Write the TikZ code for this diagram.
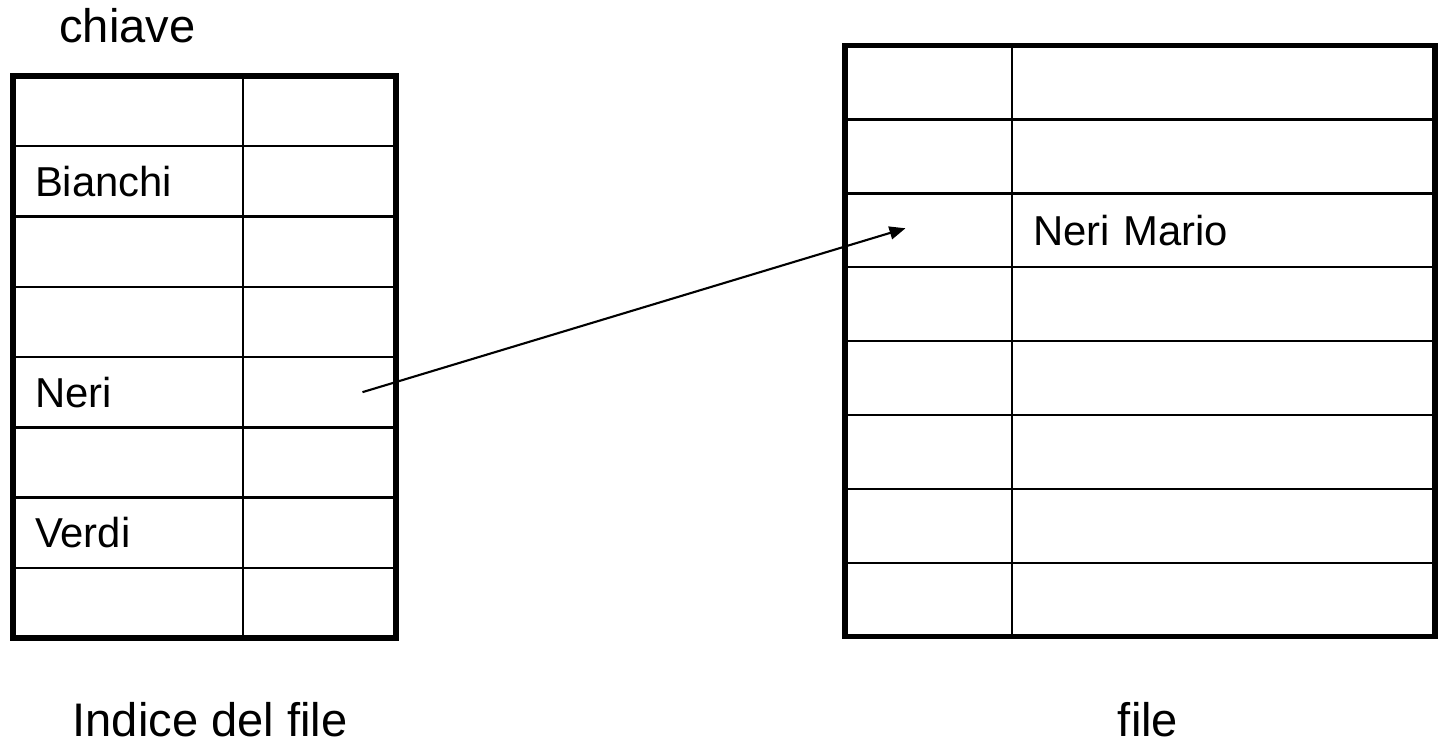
\documentclass[tikz,border=0pt]{standalone}
\usepackage{fontspec}
\setmainfont{Liberation Sans}
\usepackage{tikz}
\usetikzlibrary{arrows.meta, positioning}

\begin{document}
\begin{tikzpicture} [node distance = 0pt,
		cell/.style = {draw, line width = 0.7pt, inner ysep = 0pt, outer sep = 0pt, align = left,
		font = \fontsize{11.9}{14}\selectfont},
		keycell/.style = {cell, text width = 18.6mm, inner xsep = 2.2mm, minimum height = 7.025mm},
		ptrcell/.style = {cell, minimum width = 15.3mm, inner xsep = 0pt, minimum height = 7.025mm},
		poscell/.style = {cell, minimum width = 16.7mm, inner xsep = 0pt, minimum height = 7.39mm},
		datacell/.style = {cell, text width = 38.1mm, inner xsep = 2.1mm, minimum height = 7.39mm},
		border/.style = {line width = 1.45pt},
		caption/.style = {anchor = base, inner sep = 0pt, font = \fontsize{13.4}{16}\selectfont}]
		\useasboundingbox (0,0) rectangle (14.41,-7.49);

		% Index table: key | pointer
		\node (ik1) [keycell, anchor = north west] at (0.13,-0.76) {};
		\node (ip1) [ptrcell, right = of ik1] {};
		\foreach \r/\p/\k in {2/1/Bianchi, 3/2/, 4/3/, 5/4/Neri, 6/5/, 7/6/Verdi, 8/7/} {
			\node (ik\r) [keycell, below = of ik\p] {\k};
			\node (ip\r) [ptrcell, right = of ik\r] {};
		}
		\draw [border] (ik1.north west) rectangle (ip8.south east);

		% Data file: position | record
		\node (fk1) [poscell, anchor = north west] at (8.45,-0.455) {};
		\node (fd1) [datacell, right = of fk1] {};
		\foreach \r/\p/\k in {2/1/, 3/2/Neri Mario, 4/3/, 5/4/, 6/5/, 7/6/, 8/7/} {
			\node (fk\r) [poscell, below = of fk\p] {};
			\node (fd\r) [datacell, right = of fk\r] {\k};
		}
		\draw [border] (fk1.north west) rectangle (fd8.south east);

		% Captions
		\node (key) [caption] at (1.275,-0.42) {chiave};
		\node (idx) [caption] at (2.10,-7.36) {Indice del file};
		\node (dat) [caption] at (11.48,-7.36) {file};

		% Pointer from Neri to its record
		\coordinate (src) at ([xshift = 4.3mm] ip5.center);
		\coordinate (dst) at ([xshift = -2.3mm, yshift = 0.2mm] fk3.center);
		\draw [-{Stealth[length = 1.6mm, width = 1.3mm, inset = 0pt]}, line width = 0.6pt] (src) -- (dst);
	\end{tikzpicture}
\end{document}
